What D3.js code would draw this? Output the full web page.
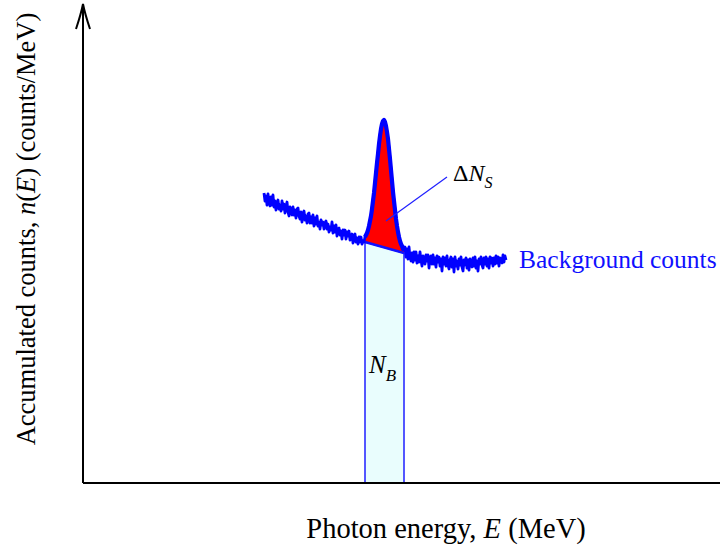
<!DOCTYPE html>
<html>
<head>
<meta charset="utf-8">
<script src="https://cdn.jsdelivr.net/npm/d3@7"></script>
<style>
  body { margin: 0; background: #fff; }
  text { font-family: "Liberation Serif", "Times New Roman", serif; }
</style>
</head>
<body>
<div id="chart"></div>
<script>
// Spectrum counts, one value per channel starting at channel 181.
const channelStart = 181;
const counts = [
  // continuum left of the peak
  290, 282, 287, 278, 289, 282, 277, 286, 278, 288,
  276, 282, 273, 280, 283, 274, 278, 272, 282, 274,
  279, 270, 276, 281, 271, 267, 276, 273, 268, 276,
  268, 273, 265, 274, 275, 267, 264, 271, 261, 269,
  272, 263, 267, 260, 269, 270, 260, 266, 260, 268,
  257, 265, 259, 267, 257, 261, 254, 263, 258, 261,
  254, 260, 262, 254, 259, 251, 256, 253, 261, 250,
  257, 251, 258, 247, 254, 255, 248, 252, 244, 253,
  248, 253, 244, 251, 247, 252, 243, 245, 249, 240,
  247, 249, 241, 245, 239, 246, 241, 246, 239, 242, 241,
  // photopeak
  246, 248, 250, 253, 257, 262, 267, 274, 282, 290,
  300, 310, 320, 329, 339, 347, 354, 359, 362, 363,
  361, 357, 351, 344, 334, 324, 313, 302, 291, 282,
  273, 264, 257, 251, 246, 242, 239, 237, 234, 233,
  // continuum right of the peak
  236, 226, 234, 224, 236, 226, 222, 230, 221, 231,
  223, 231, 220, 227, 221, 231, 223, 217, 227, 225,
  219, 228, 222, 228, 215, 225, 227, 219, 228, 219,
  225, 216, 227, 221, 226, 217, 224, 212, 226, 219,
  225, 217, 227, 218, 214, 223, 226, 216, 224, 211,
  226, 217, 222, 214, 224, 218, 226, 216, 212, 223,
  218, 225, 215, 223, 213, 224, 221, 216, 225, 217,
  226, 215, 222, 212, 224, 219, 226, 218, 215, 225,
  219, 226, 217, 224, 215, 226, 220, 225, 217, 225,
  219, 227, 220, 226, 217, 225, 224, 220, 228, 221, 227, 223
];

// Peak region (channels) and background level at its edges.
const peakChannels = [282, 321];
const bgCounts = [241, 230];

const labels = {
  x: 'Photon energy, ',
  y: 'Accumulated counts, ',
  background: 'Background counts'
};

const width = 720;
const height = 557;

const svg = d3.select('#chart')
  .append('svg')
  .attr('width', width)
  .attr('height', height);

const x = d3.scaleLinear().domain([0, 637]).range([83, 720]);
const y = d3.scaleLinear().domain([0, 473]).range([483, 10]);

const spectrum = counts.map((c, i) => ({ ch: channelStart + i, c }));
const bgScale = d3.scaleLinear().domain(peakChannels).range(bgCounts);
const inPeak = spectrum.filter(d => d.ch >= peakChannels[0] && d.ch <= peakChannels[1]);
const line = d3.line().x(d => x(d.ch)).y(d => y(d.c));

// N_B region under the background line
svg.append('path')
  .attr('d', `M${x(peakChannels[0])},${y(0)}
    L${x(peakChannels[0])},${y(bgCounts[0])}
    L${x(peakChannels[1])},${y(bgCounts[1])}
    L${x(peakChannels[1])},${y(0)}`)
  .style('fill', '#e9fdfd')
  .style('stroke', '#1f1fff')
  .style('stroke-width', 1.5);

// Net peak area
svg.append('path')
  .datum(inPeak)
  .attr('d', d3.area()
    .x(d => x(d.ch))
    .y0(d => y(bgScale(d.ch)))
    .y1(d => y(d.c)))
  .style('fill', '#ff0000');

svg.append('line')
  .attr('x1', x(peakChannels[0])).attr('y1', y(bgCounts[0]))
  .attr('x2', x(peakChannels[1])).attr('y2', y(bgCounts[1]))
  .style('stroke', '#1010ff')
  .style('stroke-width', 2.5);

// Spectrum line, peak outline drawn a bit heavier
svg.append('path')
  .datum(spectrum)
  .attr('d', line)
  .style('fill', 'none')
  .style('stroke', '#0000ff')
  .style('stroke-width', 2.8)
  .style('stroke-linejoin', 'round');
svg.append('path')
  .datum(inPeak)
  .attr('d', line)
  .style('fill', 'none')
  .style('stroke', '#0000ff')
  .style('stroke-width', 4.2)
  .style('stroke-linejoin', 'round');

// Axes
svg.append('path')
  .attr('d', `M${x(0)},${y(0)} L${width},${y(0)} M${x(0)},${y(0)} L${x(0)},5`)
  .style('stroke', '#000')
  .style('stroke-width', 2)
  .style('fill', 'none');
svg.append('path')
  .attr('d', `M${x(0) - 7},29 Q${x(0) - 2},14 ${x(0)},4 Q${x(0) + 2},14 ${x(0) + 7},29`)
  .style('stroke', '#000')
  .style('stroke-width', 2)
  .style('fill', 'none');

// Leader for the peak label
svg.append('line')
  .attr('x1', 386).attr('y1', 221)
  .attr('x2', 447).attr('y2', 177)
  .style('stroke', '#1f1fff')
  .style('stroke-width', 1.2);

const ds = svg.append('text')
  .attr('x', 453).attr('y', 181)
  .style('font-size', '24px');
ds.append('tspan').text('\u0394');
ds.append('tspan').style('font-style', 'italic').text('N');
ds.append('tspan').style('font-style', 'italic').style('font-size', '16px')
  .attr('dy', 7).text('S');

const nb = svg.append('text')
  .attr('x', 369).attr('y', 373)
  .style('font-size', '25px');
nb.append('tspan').style('font-style', 'italic').text('N');
nb.append('tspan').style('font-style', 'italic').style('font-size', '17px')
  .attr('dy', 8).text('B');

svg.append('text')
  .attr('x', 519).attr('y', 268)
  .style('font-size', '25.5px')
  .style('fill', '#1010ff')
  .text(labels.background);

const xl = svg.append('text')
  .attr('x', 446).attr('y', 538)
  .attr('text-anchor', 'middle')
  .style('font-size', '28.5px');
xl.append('tspan').text(labels.x);
xl.append('tspan').style('font-style', 'italic').text('E');
xl.append('tspan').text(' (MeV)');

const yl = svg.append('text')
  .attr('transform', 'translate(35,229) rotate(-90)')
  .attr('text-anchor', 'middle')
  .style('font-size', '26.5px');
yl.append('tspan').text(labels.y);
yl.append('tspan').style('font-style', 'italic').text('n');
yl.append('tspan').text('(');
yl.append('tspan').style('font-style', 'italic').text('E');
yl.append('tspan').text(')  (counts/MeV)');
</script>
</body>
</html>
